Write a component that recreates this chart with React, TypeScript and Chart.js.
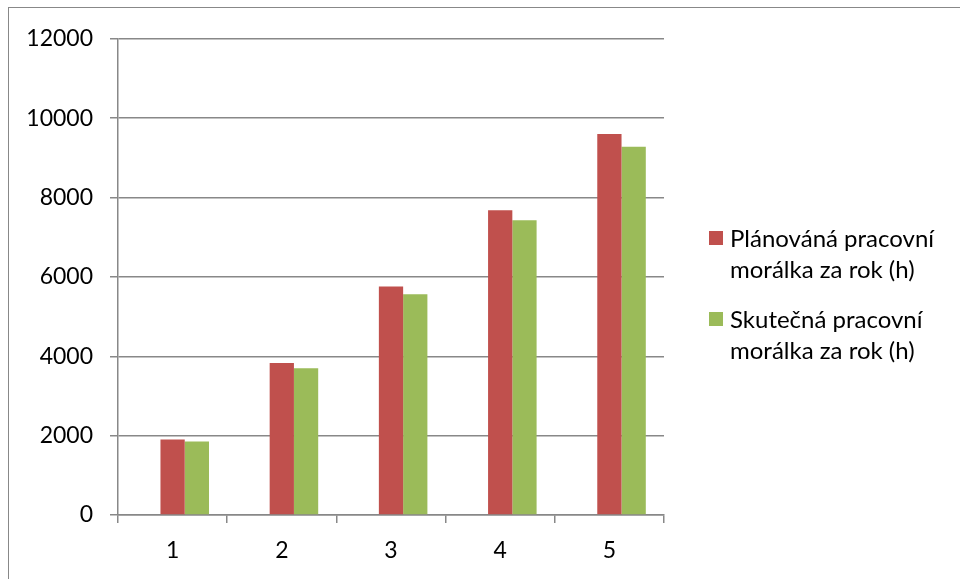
import React, { useEffect, useRef } from "react";
import { Chart, registerables } from "chart.js";

Chart.register(...registerables);

const categories = ["1", "2", "3", "4", "5"];
const emptySeries = [null, null, null, null, null];
const planned = [1900, 3830, 5760, 7680, 9600];
const actual = [1850, 3700, 5560, 7430, 9280];
const seriesNames = [
  ["Plánováná pracovní", "morálka za rok (h)"],
  ["Skutečná pracovní", "morálka za rok (h)"],
];
const seriesColors = ["#C0504D", "#9BBB59"];
const yTicks = { min: 0, max: 12000, step: 2000 };

const FONT = "Lato, 'Open Sans', sans-serif";
const GRID = "#888888";

const legendPlugin = {
  id: "customLegend",
  afterDraw(chart: any) {
    const ctx = chart.ctx;
    const ca = chart.chartArea;
    const x0 = ca.right + 45;
    const tops = [223, 304];
    ctx.save();
    ctx.font = `24px ${FONT}`;
    ctx.textBaseline = "alphabetic";
    ctx.textAlign = "left";
    const shown = chart.data.datasets.filter((ds: any) => ds.legendLines);
    shown.forEach((ds: any, i: number) => {
      const t = tops[i];
      ctx.fillStyle = ds.backgroundColor;
      ctx.fillRect(x0, t, 14, 14);
      ctx.fillStyle = "#000";
      const lines: string[] = ds.legendLines;
      lines.forEach((ln, j) => {
        ctx.fillText(ln, x0 + 21, t + 16 + j * 31);
      });
    });
    ctx.restore();
  },
};

export default function App() {
  const ref = useRef<HTMLCanvasElement | null>(null);
  useEffect(() => {
    if (!ref.current) return;
    const common = { categoryPercentage: 2 / 3, barPercentage: 1 };
    const chart = new Chart(ref.current, {
      type: "bar",
      data: {
        labels: categories,
        datasets: [
          {
            label: "",
            data: emptySeries,
            backgroundColor: "rgba(0,0,0,0)",
            ...common,
          } as any,
          {
            label: seriesNames[0].join(" "),
            legendLines: seriesNames[0],
            data: planned,
            backgroundColor: seriesColors[0],
            ...common,
          } as any,
          {
            label: seriesNames[1].join(" "),
            legendLines: seriesNames[1],
            data: actual,
            backgroundColor: seriesColors[1],
            ...common,
          } as any,
        ],
      },
      options: {
        animation: false,
        responsive: false,
        maintainAspectRatio: false,
        layout: { padding: { left: 0, top: 28, right: 295, bottom: 0 } },
        plugins: {
          legend: { display: false },
          tooltip: { enabled: false },
        },
        scales: {
          x: {
            grid: {
              display: true,
              drawOnChartArea: false,
              drawTicks: true,
              tickLength: 8,
              offset: true,
              color: GRID,
              lineWidth: 1.5,
            },
            border: { display: true, color: GRID, width: 1.5 },
            ticks: {
              color: "#000",
              font: { family: FONT, size: 23 },
              padding: 14,
            },
            afterFit: (s: any) => {
              s.height = 63;
            },
          },
          y: {
            min: yTicks.min,
            max: yTicks.max,
            ticks: {
              stepSize: yTicks.step,
              color: "#000",
              font: { family: FONT, size: 23 },
              padding: 17,
              callback: (v: any) => String(v),
            },
            grid: {
              color: GRID,
              lineWidth: 1.5,
              drawTicks: true,
              tickLength: 8,
            },
            border: { display: true, color: GRID, width: 1.5 },
            afterFit: (s: any) => {
              s.width = 109;
            },
          },
        },
      },
      plugins: [legendPlugin],
    });
    return () => chart.destroy();
  }, []);
  return (
    <div
      style={{
        position: "absolute",
        left: 8,
        top: 7,
        width: 951,
        height: 571,
        borderTop: "1.5px solid #888",
        borderLeft: "1.5px solid #888",
        background: "#fff",
      }}
    >
      <canvas ref={ref} width={950} height={570} style={{ display: "block" }} />
    </div>
  );
}
